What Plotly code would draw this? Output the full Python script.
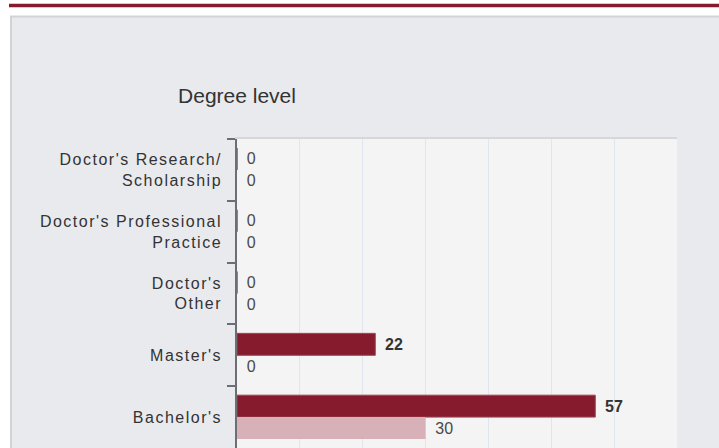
import plotly.graph_objects as go

# data (top to bottom as shown in the chart)
categories = [
    "Doctor's Research/<br>Scholarship",
    "Doctor's Professional<br>Practice",
    "Doctor's<br>Other",
    "Master's",
    "Bachelor's",
]
series_a = [0, 0, 0, 22, 57]
series_b = [0, 0, 0, 0, 30]
x_max = 70

W, H = 719, 448
L, R, T, B = 237, 42, 139, 0
FONT = "Liberation Sans, Arial, sans-serif"
DARK = "#861b2d"
PINK = "#d8b1b8"
PANEL = "#e9eaee"


def px(x):
    # page pixel -> paper x
    return (x - L) / (W - L - R)


def py(y):
    # page pixel -> paper y
    return (H - B - y) / (H - T - B)


def labels(vals, bold):
    out = []
    for v in vals:
        s = "\u00a0<span style='font-size:8px'>\u00a0</span>" + str(v)
        out.append(f"<b>{s}</b>" if (bold and v) else s)
    return out


fig = go.Figure()
fig.add_trace(go.Bar(
    y=categories, x=series_a, orientation="h",
    marker=dict(color=DARK, line=dict(color="#9c4757", width=1)),
    text=labels(series_a, True), textposition="outside",
    textfont=dict(family=FONT, size=16,
                  color=["#333" if v else "#4a4a4a" for v in series_a]),
    cliponaxis=False, showlegend=False,
))
fig.add_trace(go.Bar(
    y=categories, x=series_b, orientation="h",
    marker=dict(color=PINK, line=dict(width=0)),
    text=labels(series_b, False), textposition="outside",
    textfont=dict(family=FONT, size=16, color="#4a4a4a"),
    cliponaxis=False, showlegend=False,
))

shapes = [
    # white strips around the grey panel
    dict(type="rect", xref="paper", yref="paper", x0=px(-5), x1=px(W + 5), y0=py(16), y1=py(-5),
         fillcolor="white", line=dict(width=0), layer="above"),
    dict(type="rect", xref="paper", yref="paper", x0=px(-5), x1=px(10), y0=py(H + 5), y1=py(-5),
         fillcolor="white", line=dict(width=0), layer="above"),
    # panel border
    dict(type="line", xref="paper", yref="paper", x0=px(10), x1=px(W + 5), y0=py(16.5), y1=py(16.5),
         line=dict(color="#d2d3d5", width=2), layer="above"),
    dict(type="line", xref="paper", yref="paper", x0=px(11), x1=px(11), y0=py(16), y1=py(H + 5),
         line=dict(color="#d2d3d5", width=2), layer="above"),
    # top accent rule
    dict(type="line", xref="paper", yref="paper", x0=px(9), x1=px(W + 5), y0=py(5.5), y1=py(5.5),
         line=dict(color=DARK, width=3.5), layer="above"),
]

fig.update_layout(
    width=W, height=H,
    margin=dict(l=L, r=R, t=T, b=B),
    paper_bgcolor=PANEL,
    plot_bgcolor="#f4f4f4",
    barmode="group",
    bargap=0.29,
    bargroupgap=0,
    font=dict(family=FONT, color="#333"),
    title=dict(text="Degree level", x=237 / W, xanchor="center",
               y=1 - 96 / H, yanchor="middle",
               font=dict(family=FONT, size=21, color="#333")),
    shapes=shapes,
    xaxis=dict(range=[0, x_max], dtick=10, side="top",
               showticklabels=False, ticks="",
               showgrid=True, gridcolor="#e1e5ee", gridwidth=1,
               zeroline=False, showline=True, linecolor="#d6d7da", linewidth=2),
    yaxis=dict(autorange="reversed", showline=True, linecolor="#6b6e75", linewidth=1.5,
               ticks="outside", ticklen=8, tickcolor="#6b6e75", tickwidth=1.5,
               tickson="boundaries", showgrid=False, ticklabelstandoff=10,
               tickfont=dict(family=FONT, size=16, color="#333")),
)

# page without body margin; wider letter spacing as in the source chart
post = """
document.body.style.margin = '0';
var st = document.createElement('style');
st.textContent = '.ytick text { letter-spacing: 1.5px; } .bartext text { letter-spacing: 0.8px; }';
document.head.appendChild(st);
"""

fig.write_html("out.html", post_script=post, config={"displayModeBar": False})
